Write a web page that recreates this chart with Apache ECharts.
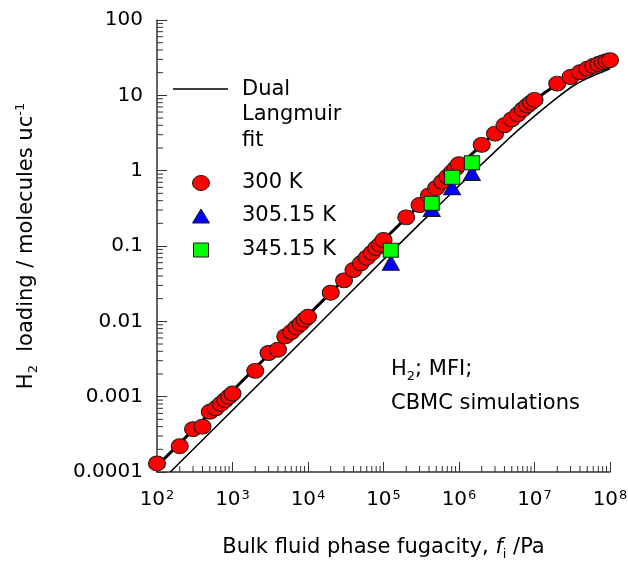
<!DOCTYPE html>
<html><head><meta charset="utf-8">
<script src="https://cdn.jsdelivr.net/npm/echarts@6/dist/echarts.min.js"></script>
<style>html,body{margin:0;padding:0;background:#fff}#c{width:628px;height:561px}</style>
</head><body><div id="c"></div>
<script>
// ---- data ----
const f300 = [100,200,300,400,500,600,700,800,900,1000,
  2000,3000,4000,5000,6000,7000,8000,9000,1e4,
  2e4,3e4,4e4,5e4,6e4,7e4,8e4,9e4,1e5,
  2e5,3e5,4e5,5e5,6e5,7e5,8e5,9e5,1e6,
  2e6,3e6,4e6,5e6,6e6,7e6,8e6,9e6,1e7,
  2e7,3e7,4e7,5e7,6e7,7e7,8e7,9e7,1e8];
const q300 = [1.3e-4,2.2e-4,3.7e-4,4.0e-4,6.3e-4,7.0e-4,8.0e-4,9.0e-4,1.0e-3,1.1e-3,
  2.2e-3,3.8e-3,4.2e-3,6.3e-3,7.2e-3,8.3e-3,9.3e-3,1.05e-2,1.15e-2,
  0.024,0.035,0.048,0.059,0.070,0.081,0.094,0.104,0.12,
  0.24,0.35,0.47,0.59,0.71,0.83,0.95,1.07,1.22,
  2.2,3.1,4.0,4.8,5.6,6.5,7.3,8.0,8.7,
  14.3,17.5,20.2,22.5,24.5,26.0,27.3,28.4,29.3];
const f305 = [1.25e5,4.35e5,8.1e5,1.48e6];
const q305 = [0.060,0.31,0.60,0.93];
const f345 = [1.25e5,4.35e5,8.1e5,1.48e6];
const q345 = [0.088,0.37,0.82,1.27];
// Dual Langmuir fit curves
const fitThickF = [100,1000,1e4,1e5,3e5,1e6,2e6,3e6,5e6,1e7,2e7,3e7,5e7,7e7,1e8];
const fitThickQ = [1.2e-4,1.2e-3,1.2e-2,0.12,0.35,1.15,2.2,3.15,4.9,8.6,14,17.5,22.5,26,29.5];
const fitThinF = [150,1000,1e4,1e5,3e5,1e6,2e6,5e6,1e7,2e7,3.2e7,5e7,1e8];
const fitThinQ = [1e-4,6.6e-4,6.6e-3,0.066,0.195,0.63,1.22,2.9,5.3,9.3,13.2,16.8,22.5];
// axes
const xMin = 1e2, xMax = 1e8, yMin = 1e-4, yMax = 100;
const yTickLabels = ['0.0001','0.001','0.01','0.1','1','10','100'];
const xTickExp = ['2','3','4','5','6','7','8'];

const zip = (a,b)=>a.map((v,i)=>[v,b[i]]);
const xMinor = [], yMinor = [];
for (let k=2;k<8;k++) for (let m=2;m<10;m++) xMinor.push([m*Math.pow(10,k), yMin]);
for (let k=-4;k<2;k++) for (let m=2;m<10;m++) yMinor.push([xMin, +(m*Math.pow(10,k)).toPrecision(3)]);

const FONT = 'DejaVu Sans';
const ELLIPSE = 'path://M1,0A1,1 0 1,1 -1,0A1,1 0 1,1 1,0Z';
const axisCol = '#333';

const chart = echarts.init(document.getElementById('c'), null, {renderer:'canvas'});
chart.setOption({
  animation:false,
  backgroundColor:'#fff',
  grid:{left:157,right:18,top:20,bottom:89,containLabel:false,outerBoundsMode:'none'},
  xAxis:{type:'log',logBase:10,min:xMin,max:xMax,interval:1,
    axisLine:{lineStyle:{color:axisCol,width:1.5}},
    axisTick:{inside:true,length:10,lineStyle:{color:axisCol}},
    splitLine:{show:false},
    axisLabel:{margin:17,color:'#000',
      formatter:v=>'{b|10}{s|'+xTickExp[Math.round(Math.log10(v))-2]+'}',
      rich:{b:{fontFamily:FONT,fontSize:20,color:'#000',lineHeight:22},
            s:{fontFamily:FONT,fontSize:13,color:'#000',verticalAlign:'top',lineHeight:22,padding:[0,0,0,1]}}},
    name:'{n|Bulk fluid phase fugacity, }{i|f}{sub|i}{n| /Pa}',
    nameLocation:'middle',nameGap:63,
    nameTextStyle:{rich:{
      n:{fontFamily:FONT,fontSize:21,color:'#000',lineHeight:26},
      i:{fontFamily:FONT,fontSize:21,fontStyle:'italic',color:'#000',lineHeight:26},
      sub:{fontFamily:FONT,fontSize:13,color:'#000',verticalAlign:'bottom',lineHeight:26}}}
  },
  yAxis:{type:'log',logBase:10,min:yMin,max:yMax,interval:1,
    axisLine:{lineStyle:{color:axisCol,width:1.5}},
    axisTick:{inside:true,length:10,lineStyle:{color:axisCol}},
    splitLine:{show:false},
    axisLabel:{margin:14,fontFamily:FONT,fontSize:20,color:'#000',
      formatter:v=>yTickLabels[Math.round(Math.log10(v))+4]},
    name:'{n|H}{sub|2}{n|  loading / molecules uc}{sup|-1}',
    nameLocation:'middle',nameRotate:90,nameGap:117,
    nameTextStyle:{rich:{
      n:{fontFamily:FONT,fontSize:21,color:'#000',lineHeight:26},
      sub:{fontFamily:FONT,fontSize:13,color:'#000',verticalAlign:'bottom',lineHeight:26},
      sup:{fontFamily:FONT,fontSize:13,color:'#000',verticalAlign:'top',lineHeight:26}}}
  },
  series:[
    {type:'custom',silent:true,z:1,data:xMinor,encode:{x:0,y:1},
      renderItem:(p,api)=>{const c=api.coord([api.value(0),api.value(1)]);
        return {type:'line',shape:{x1:c[0],y1:c[1],x2:c[0],y2:c[1]-6},style:{stroke:axisCol,lineWidth:1}};}},
    {type:'custom',silent:true,z:1,data:yMinor,encode:{x:0,y:1},
      renderItem:(p,api)=>{const c=api.coord([api.value(0),api.value(1)]);
        return {type:'line',shape:{x1:c[0],y1:c[1],x2:c[0]+6,y2:c[1]},style:{stroke:axisCol,lineWidth:1}};}},
    {name:'Dual Langmuir fit',type:'line',data:zip(fitThickF,fitThickQ),showSymbol:false,smooth:0.2,z:2,
      lineStyle:{color:'#000',width:3}},
    {name:'Dual Langmuir fit (2)',type:'line',data:zip(fitThinF,fitThinQ),showSymbol:false,smooth:0.2,z:2,
      lineStyle:{color:'#000',width:1.5}},
    {name:'300 K',type:'scatter',data:zip(f300,q300),symbol:ELLIPSE,symbolSize:[17,15],z:3,
      itemStyle:{color:'#ff0000',borderColor:'#1a1a1a',borderWidth:1,opacity:1}},
    {name:'305.15 K',type:'scatter',data:zip(f305,q305),symbol:'triangle',symbolSize:[17,15],z:3,
      itemStyle:{color:'#0000ff',borderColor:'#1a1a1a',borderWidth:1,opacity:1}},
    {name:'345.15 K',type:'scatter',data:zip(f345,q345),symbol:'rect',symbolSize:[15,14],z:3,
      itemStyle:{color:'#00ff00',borderColor:'#1a1a1a',borderWidth:1,opacity:1}}
  ],
  graphic:[
    {type:'line',shape:{x1:173,y1:89,x2:228,y2:89},style:{stroke:'#000',lineWidth:1.5}},
    {type:'text',x:242,y:90,style:{text:'Dual',fontFamily:FONT,fontSize:21,fill:'#000',verticalAlign:'middle'}},
    {type:'text',x:242,y:115,style:{text:'Langmuir',fontFamily:FONT,fontSize:21,fill:'#000',verticalAlign:'middle'}},
    {type:'text',x:242,y:141,style:{text:'fit',fontFamily:FONT,fontSize:21,fill:'#000',verticalAlign:'middle'}},
    {type:'ellipse',shape:{cx:201,cy:183,rx:8.5,ry:7.5},style:{fill:'#ff0000',stroke:'#1a1a1a',lineWidth:1}},
    {type:'text',x:242,y:183,style:{text:'300 K',fontFamily:FONT,fontSize:21,fill:'#000',verticalAlign:'middle'}},
    {type:'polygon',shape:{points:[[201,209],[209.5,223],[192.5,223]]},style:{fill:'#0000ff',stroke:'#1a1a1a',lineWidth:1}},
    {type:'text',x:242,y:216,style:{text:'305.15 K',fontFamily:FONT,fontSize:21,fill:'#000',verticalAlign:'middle'}},
    {type:'rect',shape:{x:193.5,y:243,width:15,height:14},style:{fill:'#00ff00',stroke:'#1a1a1a',lineWidth:1}},
    {type:'text',x:242,y:250,style:{text:'345.15 K',fontFamily:FONT,fontSize:21,fill:'#000',verticalAlign:'middle'}},
    {type:'text',x:391,y:370,style:{text:'{n|H}{sub|2}{n|; MFI;}',verticalAlign:'middle',
      rich:{n:{fontFamily:FONT,fontSize:21,fill:'#000',lineHeight:26},
            sub:{fontFamily:FONT,fontSize:13,fill:'#000',verticalAlign:'bottom',lineHeight:26}}}},
    {type:'text',x:391,y:404,style:{text:'CBMC simulations',fontFamily:FONT,fontSize:21,fill:'#000',verticalAlign:'middle'}}
  ]
});
</script></body></html>
